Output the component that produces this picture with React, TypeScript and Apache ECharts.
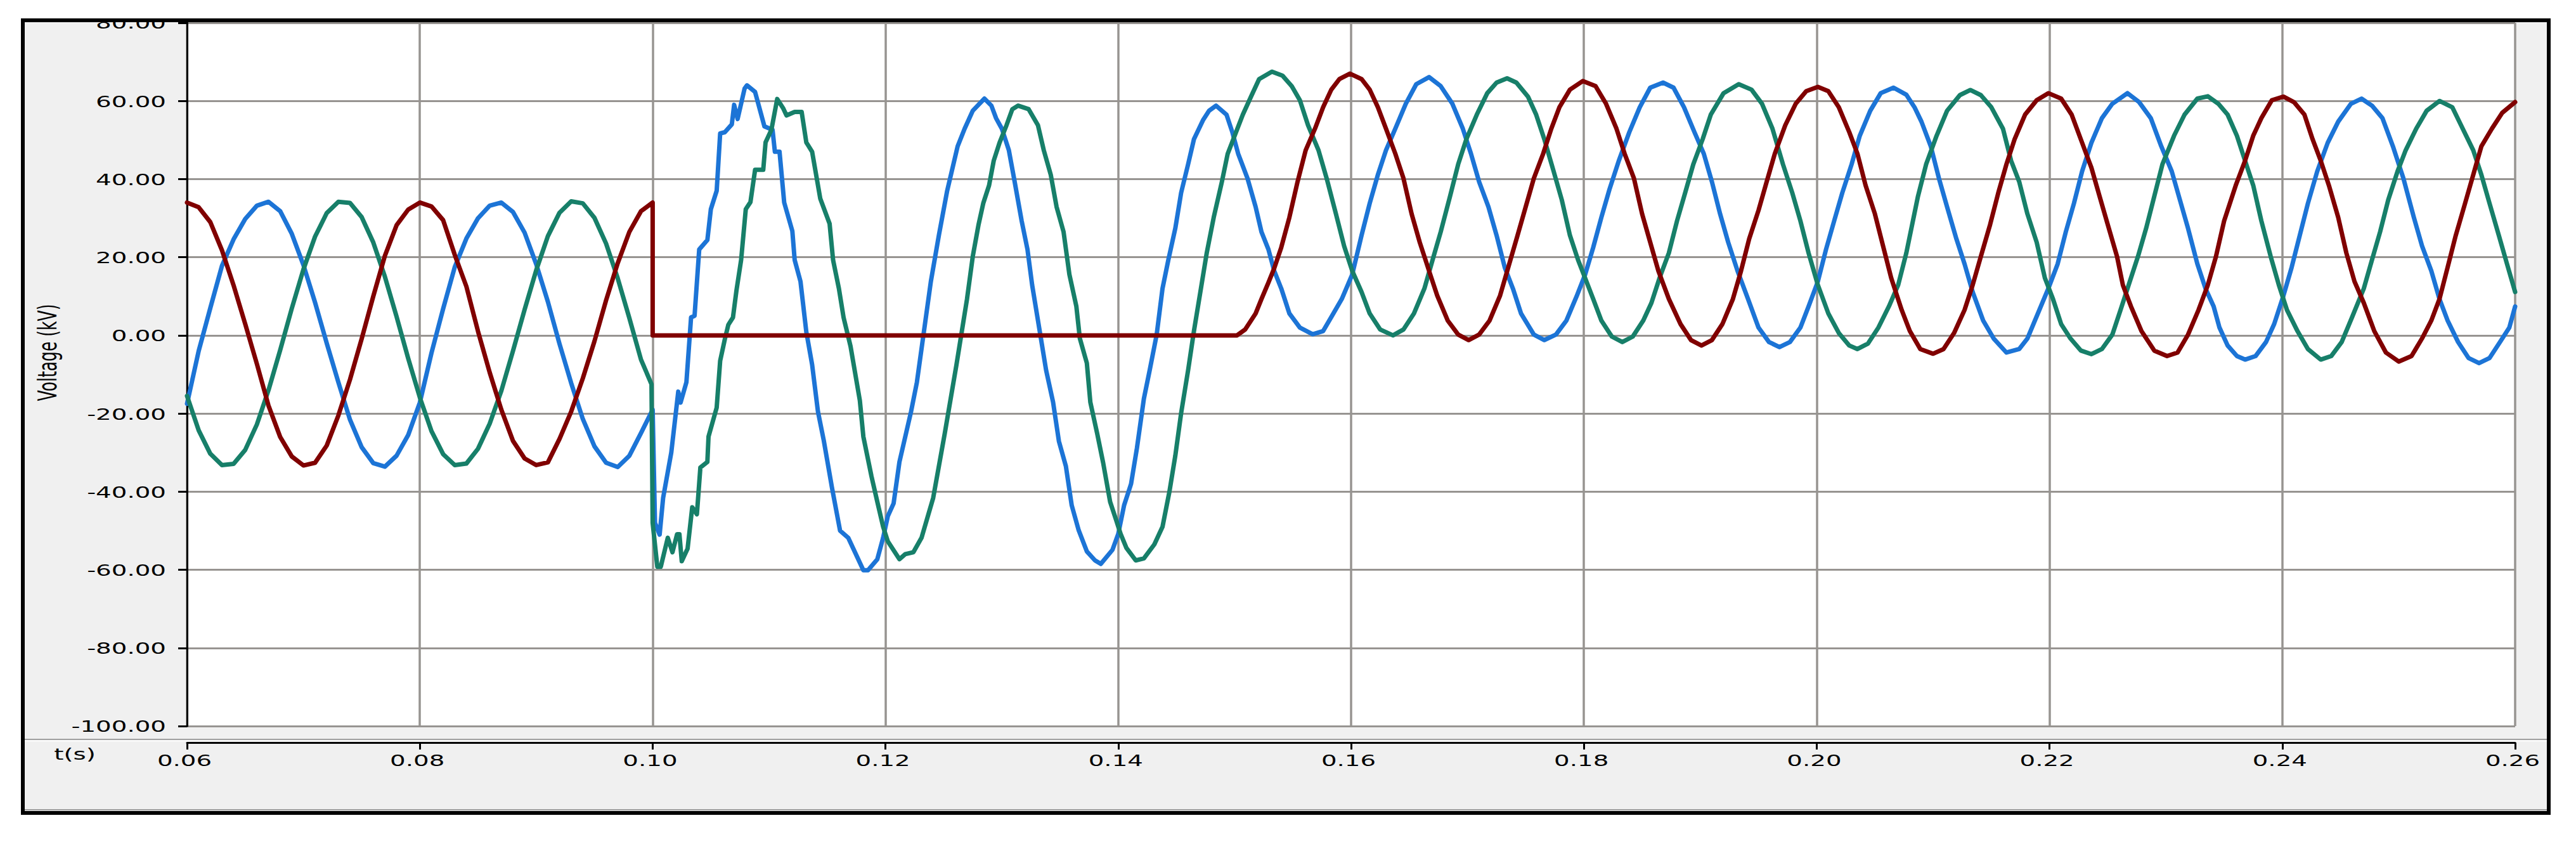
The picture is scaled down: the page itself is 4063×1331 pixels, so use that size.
import React, { useEffect, useRef } from "react";
import * as echarts from "echarts";

const xTicks = [0.06, 0.08, 0.1, 0.12, 0.14, 0.16, 0.18, 0.2, 0.22, 0.24, 0.26];
const yTicks = [80, 60, 40, 20, 0, -20, -40, -60, -80, -100];
const xTitle = "t(s)";
const yTitle = "Voltage (kV)";

const phaseBlue: [number, number][] = [
  [0.06,-17.5],[0.061,-4],[0.062,7],[0.063,17.8],[0.064,24.6],[0.065,29.8],[0.066,33.2],[0.067,34.2],[0.068,31.8],[0.069,26],[0.07,18],[0.071,8.4],[0.072,-2],[0.073,-12],[0.074,-21.6],[0.075,-28.6],[0.076,-32.7],[0.077,-33.6],[0.078,-30.8],[0.079,-25.5],[0.08,-17.2],
  [0.081,-4.5],[0.082,6.8],[0.083,17.5],[0.084,24.8],[0.085,30],[0.086,33.2],[0.087,34],[0.088,31.6],[0.089,26.3],[0.09,18.2],[0.091,8.6],[0.092,-2.2],[0.093,-12.2],[0.094,-21.4],[0.095,-28.4],[0.096,-32.6],[0.097,-33.7],[0.098,-30.8],[0.099,-25],[0.1,-19],
  [0.1002,-48],[0.1006,-51],[0.1009,-41.6],[0.1016,-30],[0.1022,-14.4],[0.1024,-17.2],[0.1029,-12],[0.1033,4.6],[0.1036,5],[0.104,22],[0.1047,24.4],[0.105,32.3],[0.1055,37],[0.1058,51.7],[0.1062,52],[0.1068,54],[0.107,59],[0.1073,55.4],[0.1079,63.2],[0.1081,64],[0.1088,62.3],[0.1096,53.5],[0.1103,52.6],[0.1105,47],[0.1109,47],[0.1113,34],[0.112,26.7],[0.1122,19.3],[0.1127,13.8],[0.1132,0.9],[0.1137,-7.5],[0.1142,-19.5],[0.1147,-26.9],[0.1154,-38.9],[0.1161,-50],[0.1168,-51.8],[0.1176,-56.9],[0.1181,-60.1],[0.1185,-60.1],[0.1193,-57.3],[0.1198,-51.8],[0.1202,-46.3],[0.1207,-43],[0.1212,-32.4],[0.1222,-19.5],[0.1227,-12],[0.1239,13.8],[0.1246,25.8],[0.1253,37],[0.1262,48.4],[0.1268,52.9],[0.1275,57.5],[0.1285,60.6],[0.1291,58.8],[0.1295,55.6],[0.13,52.9],[0.1306,47.4],[0.1311,39.3],[0.1317,29.3],[0.1322,22],[0.1326,12.9],[0.1333,0.2],[0.1338,-8.9],[0.1344,-17.1],[0.1349,-27.1],[0.1355,-33.5],[0.136,-43.5],[0.1366,-49.9],[0.1373,-55.3],[0.138,-57.6],[0.1385,-58.5],[0.1395,-54.9],[0.14,-50.8],[0.1405,-43.5],[0.1411,-38],[0.1416,-28.9],[0.1422,-16.2],[0.1427,-8.9],[0.1433,0.2],[0.1438,12],[0.1443,19.3],[0.1449,27.4],[0.1454,36.5],[0.146,43.8],[0.1465,50.2],[0.1473,55.2],[0.1478,57.5],[0.1484,58.8],[0.1493,56.5],[0.1498,52],[0.1503,46.5],[0.1511,40.2],[0.1518,32.9],[0.1523,26.5],[0.1529,22],[0.1534,16.5],[0.154,12],[0.1547,5.6],[0.1556,2],[0.1567,0.3],[0.1576,1.1],[0.1583,4.7],[0.1592,9.3],[0.1601,15.6],[0.1609,25.6],[0.1616,33.8],[0.1623,41.1],[0.163,47.4],[0.1638,52.9],[0.1647,59.3],[0.1656,64.3],[0.1667,66.1],[0.1677,63.8],[0.1687,59.3],[0.1696,52.9],[0.1703,46.5],[0.171,39.3],[0.1718,32.9],[0.1725,25.6],[0.1732,17.4],[0.1739,12],[0.1746,5.6],[0.1757,0.2],[0.1766,-1.2],[0.1776,0.2],[0.1785,3.8],[0.1794,10.2],[0.1801,15.5],[0.1808,22.5],[0.1815,30.2],[0.1822,37.4],[0.183,44.7],[0.1839,52],[0.1848,58.4],[0.1857,63.4],[0.1868,64.7],[0.1877,63.4],[0.1886,58.4],[0.1895,52],[0.1903,46.5],[0.191,39.3],[0.1917,31.1],[0.1924,23.8],[0.1932,16.5],[0.1941,9.3],[0.195,2],[0.1959,-1.7],[0.1968,-3],[0.1977,-1.7],[0.1986,2],[0.1993,7.4],[0.2001,13.8],[0.2008,22],[0.2015,29.3],[0.2022,36.5],[0.203,43.8],[0.2037,51.1],[0.2046,57.5],[0.2055,62],[0.2066,63.4],[0.2077,61.6],[0.2084,58.4],[0.209,54.7],[0.2098,48.4],[0.2105,40.2],[0.2112,32.9],[0.212,24.7],[0.2127,18.3],[0.2134,11.1],[0.2143,3.8],[0.2152,-0.8],[0.2163,-4.4],[0.2174,-3.5],[0.2181,-0.8],[0.219,5.6],[0.2199,12],[0.2207,18.3],[0.2214,26.5],[0.2221,33.8],[0.2228,42],[0.2236,49.3],[0.2245,55.6],[0.2254,59.3],[0.2267,62],[0.2277,59.7],[0.2287,55.6],[0.2296,48.4],[0.2305,42],[0.2312,34.7],[0.2319,27.4],[0.2327,18.3],[0.2334,12],[0.2341,7.4],[0.2346,2],[0.2353,-2.6],[0.2361,-5.3],[0.2368,-6.2],[0.2377,-5.3],[0.2386,-1.7],[0.2393,2.9],[0.2401,10.2],[0.2408,17.4],[0.2415,25.6],[0.2422,33.8],[0.243,42],[0.2439,49.3],[0.2448,54.7],[0.2459,59.3],[0.2468,60.6],[0.2477,58.8],[0.2486,55.6],[0.2495,48.4],[0.2504,40.2],[0.2513,30.2],[0.252,22.9],[0.2528,16.5],[0.2535,9.3],[0.2542,3.8],[0.2551,-1.7],[0.256,-5.8],[0.2569,-7.1],[0.2578,-5.8],[0.2587,-1.7],[0.2595,2],[0.26,7.4]
];

const phaseGreen: [number, number][] = [
  [0.06,-15.5],[0.061,-24.3],[0.062,-30.3],[0.063,-33.2],[0.064,-32.9],[0.065,-29.3],[0.066,-22.8],[0.067,-14],[0.068,-3.8],[0.069,6.9],[0.07,16.9],[0.071,25.3],[0.072,31.3],[0.073,34.2],[0.074,33.9],[0.075,30.3],[0.076,23.8],[0.077,15],[0.078,4.8],[0.079,-5.9],[0.08,-15.9],
  [0.081,-24.5],[0.082,-30.4],[0.083,-33.2],[0.084,-32.8],[0.085,-29],[0.086,-22.6],[0.087,-14.2],[0.088,-4],[0.089,6.6],[0.09,16.7],[0.091,25.4],[0.092,31.4],[0.093,34.3],[0.094,33.8],[0.095,30.1],[0.096,23.5],[0.097,14.6],[0.098,4.4],[0.099,-6.2],[0.0999,-12.5],
  [0.1,-48],[0.1004,-59.2],[0.1007,-59.2],[0.1013,-51.8],[0.1017,-55.5],[0.1021,-50.9],[0.1023,-50.9],[0.1025,-57.8],[0.103,-54.6],[0.1034,-44],[0.1038,-45.8],[0.1041,-33.8],[0.1047,-32.4],[0.1048,-25.9],[0.1055,-18.5],[0.1058,-6.5],[0.1062,-1],[0.1065,2.7],[0.1069,4.6],[0.1072,11.5],[0.1076,19.3],[0.108,32.3],[0.1084,34.1],[0.1088,42.4],[0.1095,42.4],[0.1097,49.4],[0.1102,52.6],[0.1107,60.5],[0.1112,58.2],[0.1115,56.3],[0.1122,57.2],[0.1128,57.2],[0.1132,49.4],[0.1137,47],[0.1144,35],[0.1152,28.6],[0.1155,19.3],[0.116,12],[0.1164,4.6],[0.117,-2.8],[0.1178,-16.7],[0.1181,-25.9],[0.1188,-36.1],[0.1193,-42.6],[0.1198,-49],[0.1202,-52.7],[0.1212,-57.3],[0.1217,-56],[0.1224,-55.5],[0.1231,-51.8],[0.1241,-41.6],[0.1251,-25],[0.1261,-7.5],[0.127,9.2],[0.1275,20.2],[0.128,28.4],[0.1284,33.8],[0.1289,38.4],[0.1293,44.7],[0.1298,49.3],[0.1304,53.8],[0.1309,57.9],[0.1314,58.8],[0.1323,57.9],[0.1331,53.8],[0.1336,47.4],[0.1342,41.1],[0.1347,32.9],[0.1353,26.5],[0.1358,15.6],[0.1364,7.4],[0.1367,-0.8],[0.1373,-7.1],[0.1376,-17.1],[0.1382,-25.3],[0.1387,-32.6],[0.1393,-42.6],[0.1398,-47.1],[0.1402,-50.8],[0.1407,-54.4],[0.1415,-57.6],[0.1422,-57.1],[0.1431,-53.5],[0.1438,-49],[0.1444,-39.9],[0.1449,-30.8],[0.1454,-19.9],[0.146,-8.9],[0.1465,1.1],[0.1471,12],[0.1476,21.1],[0.1482,30.2],[0.1489,39.3],[0.1494,46.5],[0.15,51.1],[0.1507,56.5],[0.1514,61.1],[0.1521,65.6],[0.1532,67.5],[0.1541,66.5],[0.1549,63.8],[0.1556,60.2],[0.1563,53.8],[0.1572,47.4],[0.1579,40.2],[0.1587,31.1],[0.1594,22.9],[0.1601,16.5],[0.1609,11.1],[0.1616,5.6],[0.1625,1.5],[0.1636,0],[0.1645,1.5],[0.1654,5.6],[0.1663,12],[0.167,19.3],[0.1677,26.5],[0.1685,35.6],[0.1692,43.8],[0.1699,50.2],[0.1708,56.5],[0.1717,62],[0.1725,64.7],[0.1734,65.8],[0.1742,64.7],[0.1752,61.1],[0.1759,56.5],[0.1766,50.2],[0.1774,42],[0.1781,34.7],[0.1788,25.6],[0.1795,19.3],[0.1801,14.7],[0.1808,9.3],[0.1815,3.8],[0.1824,-0.3],[0.1833,-1.7],[0.1842,-0.3],[0.1851,3.8],[0.1858,8.3],[0.1865,14.7],[0.1873,21.1],[0.188,29.3],[0.1887,36.5],[0.1894,43.8],[0.1902,50.2],[0.1909,56.5],[0.192,62],[0.1933,64.3],[0.1944,62.9],[0.1953,59.3],[0.1962,52.9],[0.1971,43.8],[0.1979,36.5],[0.1986,29.3],[0.1993,21.1],[0.2001,12.9],[0.201,5.6],[0.2019,0.6],[0.2028,-2.6],[0.2035,-3.5],[0.2044,-2.1],[0.2053,2],[0.2062,7.4],[0.207,12.9],[0.2077,21.1],[0.2087,35.6],[0.2094,43.8],[0.2103,51.1],[0.2112,57.5],[0.2123,61.5],[0.2132,62.8],[0.2141,61.5],[0.215,58.4],[0.216,52.9],[0.2167,44.7],[0.2174,39.3],[0.2181,31.1],[0.2189,23.8],[0.2196,14.7],[0.2203,9.3],[0.221,2.9],[0.2218,-0.8],[0.2227,-3.9],[0.2236,-4.8],[0.2245,-3.5],[0.2254,0.2],[0.2261,6.5],[0.2268,12.9],[0.2276,20.2],[0.2283,27.4],[0.229,35.6],[0.2297,43.8],[0.2307,51.1],[0.2316,56.5],[0.2327,60.6],[0.2336,61.2],[0.2345,59.3],[0.2353,56.5],[0.2361,51.1],[0.2368,44.7],[0.2375,38.4],[0.2382,29.3],[0.239,20.2],[0.2397,12.9],[0.2404,6.5],[0.2413,1.1],[0.2422,-3.5],[0.2433,-6.2],[0.2442,-5.3],[0.2451,-1.7],[0.246,4.7],[0.247,12],[0.2477,19.3],[0.2484,26.5],[0.2491,34.7],[0.2499,42],[0.2506,47.4],[0.2515,52.9],[0.2524,57.5],[0.2535,60],[0.2546,58.4],[0.2555,52.9],[0.2564,47.4],[0.2571,41.1],[0.2578,33.8],[0.2586,25.6],[0.2593,18.3],[0.26,11.1]
];

const phaseRed: [number, number][] = [
  [0.06,34],[0.061,32.8],[0.062,29],[0.063,21.8],[0.064,12.8],[0.065,2.9],[0.066,-7.3],[0.067,-18],[0.068,-26],[0.069,-31],[0.07,-33.3],[0.071,-32.6],[0.072,-28.2],[0.073,-20.5],[0.074,-11.3],[0.075,-0.9],[0.076,10],[0.077,20.4],[0.078,28.2],[0.079,32.2],[0.08,34],
  [0.081,33],[0.082,29.5],[0.083,20.6],[0.084,12.5],[0.085,1],[0.086,-9.5],[0.087,-19],[0.088,-27],[0.089,-31.5],[0.09,-33.2],[0.091,-32.5],[0.092,-26.5],[0.093,-19.5],[0.094,-11],[0.095,-1.5],[0.096,9],[0.097,18.5],[0.098,26.5],[0.099,31.8],[0.1,34],
  [0.1,0],[0.1502,0],[0.1509,1.5],[0.1518,5.6],[0.1523,9.3],[0.1529,13.5],[0.1534,17.2],[0.154,22.5],[0.1547,30.2],[0.1554,39.3],[0.1561,47.4],[0.1569,52.9],[0.1576,58.4],[0.1583,62.9],[0.159,65.6],[0.1599,67],[0.1609,65.6],[0.1616,62.9],[0.1623,58.4],[0.163,52.9],[0.1638,46.5],[0.1645,40.2],[0.1652,31.1],[0.1659,23.8],[0.1667,16.5],[0.1674,10.2],[0.1683,3.8],[0.1692,0.2],[0.1701,-1.2],[0.171,0.2],[0.1719,3.8],[0.1728,10.2],[0.1736,18.4],[0.1743,25.6],[0.175,32.9],[0.1757,40.2],[0.1765,46.5],[0.1772,52.9],[0.1779,58.4],[0.1788,62.9],[0.1799,65.1],[0.181,63.8],[0.1819,59.3],[0.1828,52.9],[0.1835,46.5],[0.1843,40.2],[0.185,31.1],[0.1857,23.8],[0.1864,16.5],[0.1873,9.3],[0.1883,2.9],[0.1892,-1.2],[0.1901,-2.6],[0.191,-1.2],[0.1919,2.9],[0.1928,9.3],[0.1935,16.5],[0.1942,24.7],[0.195,32],[0.1957,39.3],[0.1964,46.5],[0.1973,53.8],[0.1982,59.3],[0.1991,62.5],[0.2001,63.6],[0.201,62.5],[0.2019,58.4],[0.2028,52],[0.2035,46.5],[0.2042,38.4],[0.205,31.1],[0.2057,22.9],[0.2064,14.7],[0.2073,6.5],[0.208,1.1],[0.2089,-3.5],[0.21,-4.7],[0.2109,-3.5],[0.2118,0.6],[0.2127,6.5],[0.2134,12.9],[0.2141,20.2],[0.2149,28.4],[0.2156,36.5],[0.2163,43.8],[0.217,50.2],[0.2179,56.5],[0.2189,60.2],[0.2199,62],[0.221,60.6],[0.2219,56.5],[0.2228,49.3],[0.2236,42.9],[0.2243,35.6],[0.225,28.4],[0.2258,20.2],[0.2263,12.9],[0.227,7.4],[0.2279,1.1],[0.229,-3.9],[0.2301,-5.3],[0.231,-4.4],[0.2319,0.2],[0.2328,6.5],[0.2336,12.9],[0.2343,20.2],[0.235,29.3],[0.236,38.4],[0.2368,44.7],[0.2375,51.1],[0.2382,55.6],[0.2391,60.2],[0.2401,61.1],[0.241,59.7],[0.2419,56.5],[0.2426,50.2],[0.2433,44.7],[0.244,38.4],[0.2448,30.2],[0.2455,21.1],[0.2462,13.8],[0.247,8.3],[0.2479,1.1],[0.2489,-4.4],[0.25,-6.7],[0.2511,-5.3],[0.252,-0.8],[0.2528,3.8],[0.2535,9.3],[0.2542,17.4],[0.2549,25.6],[0.2557,33.8],[0.2564,41.1],[0.2571,48.4],[0.258,52.9],[0.2589,57],[0.26,59.7]
];

const W = 4063;
const H = 1331;
const FONT = '"DejaVu Sans", Verdana, sans-serif';
const STRETCH = 1.55;

export default function App() {
  const ref = useRef<HTMLDivElement>(null);

  useEffect(() => {
    if (!ref.current) return;
    const chart = echarts.init(ref.current, null, { renderer: "svg", width: W, height: H });
    const gridColor = "#979491";
    const lineSeries = (name: string, data: [number, number][], color: string) => ({
      name,
      type: "line",
      data,
      symbol: "none",
      showSymbol: false,
      clip: true,
      lineStyle: { width: 7, color, cap: "round", join: "round" },
      itemStyle: { color },
      emphasis: { disabled: true },
    });

    chart.setOption({
      animation: false,
      backgroundColor: "#ffffff",
      grid: { left: 295, right: 96, top: 36, bottom: 186, show: true, backgroundColor: "#ffffff", borderWidth: 0 },
      xAxis: {
        type: "value",
        min: 0.06,
        max: 0.26,
        interval: 0.02,
        position: "bottom",
        offset: 26,
        axisLine: { show: true, onZero: false, lineStyle: { color: "#000", width: 3 } },
        axisTick: { show: true, inside: false, length: 11, lineStyle: { color: "#000", width: 3 } },
        axisLabel: { show: false },
        splitLine: { show: true, lineStyle: { color: gridColor, width: 3.5 } },
      },
      yAxis: {
        type: "value",
        min: -100,
        max: 80,
        interval: 20,
        z: 3,
        axisLine: { show: true, onZero: false, lineStyle: { color: "#000", width: 3 } },
        axisTick: { show: true, inside: false, length: 14, lineStyle: { color: "#000", width: 3 } },
        axisLabel: { show: false },
        splitLine: { show: true, lineStyle: { color: gridColor, width: 3 } },
      },
      series: [
        lineSeries("Phase B", phaseBlue, "#1C74D6"),
        lineSeries("Phase C", phaseGreen, "#177F69"),
        lineSeries("Phase A", phaseRed, "#800000"),
      ],
    });

    const yPx = (v: number) => chart.convertToPixel({ yAxisIndex: 0 }, v) as number;
    const xPx = (t: number) => chart.convertToPixel({ xAxisIndex: 0 }, t) as number;

    const txt = (text: string, x: number, y: number, align: string, extra: any = {}) => ({
      type: "text",
      x,
      y,
      z: 50,
      scaleX: STRETCH,
      ...extra,
      style: {
        text,
        fontSize: 25,
        fontFamily: FONT,
        fill: "#000",
        align,
        textAlign: align,
        verticalAlign: "middle",
        textVerticalAlign: "middle",
      },
    });

    const elements: any[] = [
      { type: "rect", z: -10, shape: { x: 36, y: 32, width: 3984, height: 1250 }, style: { fill: "#F0F0F0" } },
      { type: "line", z: 5, shape: { x1: 39, y1: 1166, x2: 4017, y2: 1166 }, style: { stroke: "#A0A0A0", lineWidth: 2 } },
      { type: "line", z: 5, shape: { x1: 39, y1: 1168.5, x2: 4017, y2: 1168.5 }, style: { stroke: "#FFFFFF", lineWidth: 1.5 } },
      { type: "line", z: 5, shape: { x1: 39, y1: 1277, x2: 4017, y2: 1277 }, style: { stroke: "#A0A0A0", lineWidth: 2 } },
    ];
    yTicks.forEach((v) => elements.push(txt(v.toFixed(2), 262, yPx(v) + 1, "right")));
    xTicks.forEach((t) => elements.push(txt(t.toFixed(2), xPx(t) - 4, 1200, "center")));
    elements.push(txt(xTitle, 118, 1190, "center"));
    elements.push({
      type: "text",
      x: 75,
      y: 556,
      z: 50,
      rotation: Math.PI / 2,
      scaleY: 1.6,
      style: {
        text: yTitle,
        fontSize: 25,
        fontFamily: FONT,
        fill: "#000",
        align: "center",
        textAlign: "center",
        verticalAlign: "middle",
        textVerticalAlign: "middle",
      },
    });
    elements.push({ type: "rect", z: 90, shape: { x: 0, y: 0, width: W, height: 30 }, style: { fill: "#ffffff" } });
    elements.push({
      type: "rect",
      z: 100,
      shape: { x: 36, y: 32, width: 3984, height: 1250 },
      style: { fill: "none", stroke: "#000", lineWidth: 6 },
    });

    chart.setOption({ graphic: { elements } });

    return () => chart.dispose();
  }, []);

  return <div ref={ref} style={{ position: "fixed", left: 0, top: 0, width: W, height: H }} />;
}
